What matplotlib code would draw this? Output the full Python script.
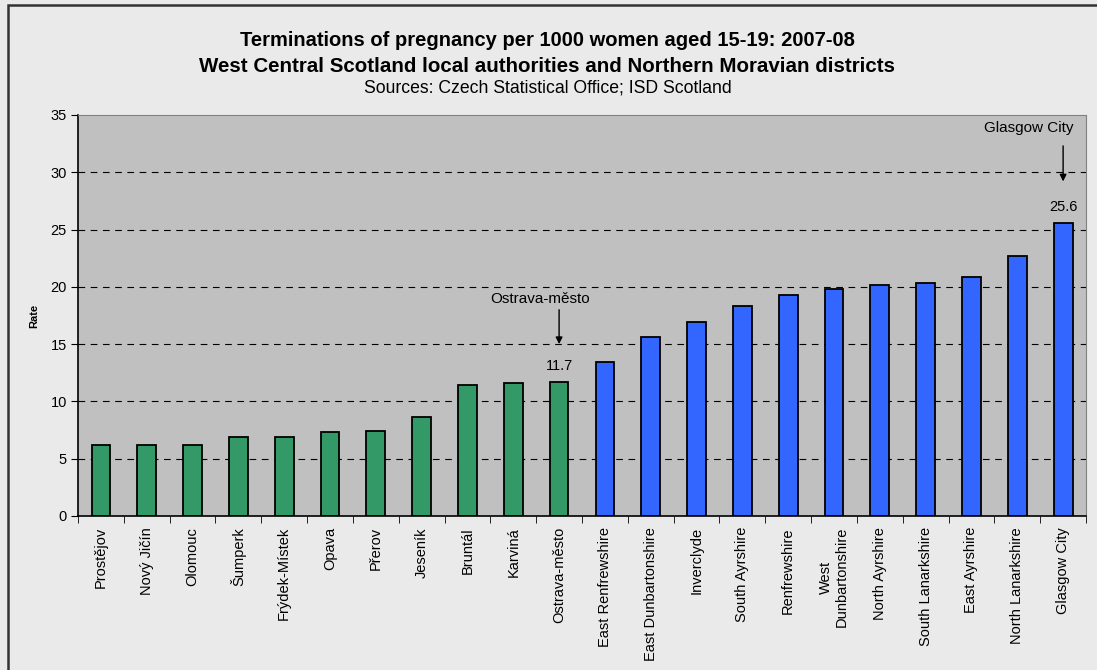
import numpy as np
import matplotlib.pyplot as plt
from matplotlib.patches import Rectangle

plt.rcParams['font.family'] = ['Liberation Sans', 'DejaVu Sans']

czech = ["Prostějov", "Nový Jičín", "Olomouc", "Šumperk", "Frýdek-Místek",
         "Opava", "Přerov", "Jeseník", "Bruntál", "Karviná", "Ostrava-město"]
czech_rate = [6.2, 6.2, 6.2, 6.9, 6.9, 7.3, 7.4, 8.6, 11.4, 11.6, 11.7]
scot = ["East Renfrewshire", "East Dunbartonshire", "Inverclyde",
        "South Ayrshire", "Renfrewshire", "West\nDunbartonshire",
        "North Ayrshire", "South Lanarkshire", "East Ayrshire",
        "North Lanarkshire", "Glasgow City"]
scot_rate = [13.4, 15.6, 16.9, 18.3, 19.3, 19.8, 20.2, 20.3, 20.9, 22.7, 25.6]

labels = czech + scot
rates = czech_rate + scot_rate
colors = ['#339966'] * len(czech) + ['#3366FF'] * len(scot)

fig = plt.figure(figsize=(10.97, 6.70), dpi=100)
fig.patch.set_facecolor('#EAEAEA')
# outer chart frame (runs off the right and bottom edges)
fig.patches.append(Rectangle((8 / 1097, -0.05), 1.2, 1.05 - 5 / 670,
                             transform=fig.transFigure, fill=False,
                             edgecolor='#333333', lw=1.8))
ax = fig.add_axes([0.0711, 0.2299, 0.9189, 0.5985])
ax.set_facecolor('#C0C0C0')

x = np.arange(len(labels))
ax.bar(x, rates, width=0.41, color=colors, edgecolor='black', lw=1.3,
       zorder=3)

ax.set_xlim(-0.5, len(labels) - 0.5)
ax.set_ylim(0, 35)
ax.set_yticks(range(0, 36, 5))
for v in range(5, 35, 5):
    ax.axhline(v, color='black', lw=0.8, ls=(0, (6, 5)), zorder=1)

ax.set_xticks(x)
ax.set_xticklabels(labels, rotation=90, fontsize=10.5, ha='center',
                   va='top', multialignment='center')
ax.tick_params(axis='x', length=0, pad=8)
ax.set_xticks(np.arange(-0.5, len(labels), 1), minor=True)
ax.tick_params(axis='x', which='minor', length=5, direction='out')
ax.tick_params(axis='y', length=5, direction='out', labelsize=10.5, pad=3)

for side in ['top', 'right']:
    ax.spines[side].set_color('#808080')
for side in ['left', 'bottom']:
    ax.spines[side].set_color('black')
    ax.spines[side].set_linewidth(1.2)

ax.set_ylabel('Rate', fontsize=8, fontweight='bold', labelpad=8)

# value labels and pointers
for idx in [len(czech) - 1, len(labels) - 1]:
    ax.text(x[idx], rates[idx] + 0.8, f"{rates[idx]:.1f}", ha='center',
            va='bottom', fontsize=10.5)
ax.text(x[10] - 0.41, 18.9, 'Ostrava-město', ha='center', va='center',
        fontsize=11)
ax.annotate('', xy=(x[10], 15.0), xytext=(x[10], 18.0),
            arrowprops=dict(arrowstyle='-|>', color='black', lw=1,
                            shrinkA=0, shrinkB=0))
ax.text(x[-1] - 0.74, 33.9, 'Glasgow City', ha='center', va='center',
        fontsize=11)
ax.annotate('', xy=(x[-1], 29.2), xytext=(x[-1], 32.3),
            arrowprops=dict(arrowstyle='-|>', color='black', lw=1,
                            shrinkA=0, shrinkB=0))

fig.text(0.499, 0.94, 'Terminations of pregnancy per 1000 women aged 15-19: 2007-08',
         ha='center', va='center', fontsize=14.5, fontweight='bold')
fig.text(0.499, 0.901, 'West Central Scotland local authorities and Northern Moravian districts',
         ha='center', va='center', fontsize=14.8, fontweight='bold')
fig.text(0.499, 0.868, 'Sources: Czech Statistical Office; ISD Scotland',
         ha='center', va='center', fontsize=12.7)

fig.savefig('out.png', dpi=100, facecolor=fig.get_facecolor())
